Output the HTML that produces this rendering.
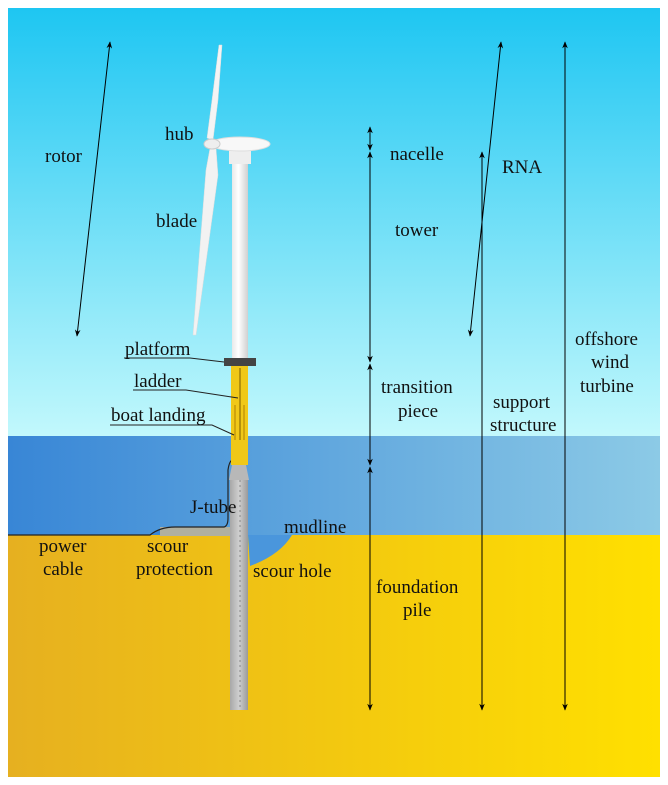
<!DOCTYPE html>
<html><head><style>html,body{margin:0;padding:0;background:#fff;}svg{display:block}</style></head><body>
<svg width="668" height="785" viewBox="0 0 668 785" xmlns="http://www.w3.org/2000/svg" font-family="Liberation Serif, serif" font-size="19" fill="#111">
<defs>
<linearGradient id="sky" x1="0" y1="0" x2="0" y2="1"><stop offset="0" stop-color="#1ec6f2"/><stop offset="1" stop-color="#c2f8fc"/></linearGradient>
<linearGradient id="sea" x1="0" y1="0" x2="1" y2="0"><stop offset="0" stop-color="#3886d6"/><stop offset="1" stop-color="#8ccae6"/></linearGradient>
<linearGradient id="gnd" x1="0" y1="0" x2="1" y2="0"><stop offset="0" stop-color="#e6b020"/><stop offset="1" stop-color="#ffe000"/></linearGradient>
<linearGradient id="pile" x1="0" y1="0" x2="1" y2="0"><stop offset="0" stop-color="#a8a8a8"/><stop offset="0.5" stop-color="#cfcfcf"/><stop offset="1" stop-color="#9a9a9a"/></linearGradient>
<linearGradient id="tow" x1="0" y1="0" x2="1" y2="0"><stop offset="0" stop-color="#e8e8e8"/><stop offset="0.4" stop-color="#ffffff"/><stop offset="1" stop-color="#d0d0d0"/></linearGradient>
<marker id="a" viewBox="0 0 10 10" refX="9" refY="5" markerWidth="7" markerHeight="7" orient="auto-start-reverse"><path d="M0,1 L10,5 L0,9 L3,5z" fill="#000"/></marker>
</defs>
<rect x="8" y="8" width="652" height="428" fill="url(#sky)"/>
<rect x="8" y="436" width="652" height="100" fill="url(#sea)"/>
<rect x="8" y="535" width="652" height="242" fill="url(#gnd)"/>
<path d="M248,535 L292,535 Q280,555 250,566 Z" fill="#4a96dc"/>
<path d="M8,535 L150,535 Q160,527 175,527 L228,527 L230,535 Z" fill="#3a88d6"/>
<rect x="160" y="527" width="70" height="9" fill="#b0b0a0"/>
<path d="M8,535 L150,535 Q160,527 175,527 L224,527 Q228,526 228,518 L228,470 Q229,462 232,460" fill="none" stroke="#222" stroke-width="1.2"/>
<rect x="230" y="478" width="18" height="232" fill="url(#pile)"/>
<path d="M232,465 L246,465 L249,480 L229,480 Z" fill="#b8b8b8"/>
<line x1="240" y1="480" x2="240" y2="708" stroke="#888" stroke-dasharray="2,3"/>
<rect x="231" y="363" width="17" height="102" fill="#f0c818"/>
<line x1="240" y1="368" x2="240" y2="440" stroke="#7a5a00"/>
<line x1="235" y1="405" x2="235" y2="440" stroke="#b08000"/>
<line x1="244" y1="405" x2="244" y2="440" stroke="#b08000"/>
<rect x="224" y="358" width="32" height="8" fill="#444"/>
<rect x="232" y="150" width="16" height="208" fill="url(#tow)"/>
<rect x="229" y="150" width="22" height="14" fill="#eee"/>
<path d="M219,45 L222,45 L218,100 L213,140 L207,138 L212,100 Z" fill="#f4f4f4" stroke="#ddd" stroke-width="0.5"/>
<path d="M210,148 L216,148 L218,175 L196,335 L193,335 L206,170 Z" fill="#f2f2f2" stroke="#ddd" stroke-width="0.5"/>
<ellipse cx="240" cy="144" rx="30" ry="7" fill="#f8f8f8" stroke="#ddd"/>
<ellipse cx="212" cy="144" rx="8" ry="5" fill="#eee" stroke="#ccc"/>
<g stroke="#222" stroke-width="1" fill="none">
<path d="M124,358 L190,358 L224,362"/>
<path d="M133,390 L186,390 L238,398"/>
<path d="M110,425 L212,425 L234,435"/>
</g>
<g stroke="#000" stroke-width="1" marker-start="url(#a)" marker-end="url(#a)">
<line x1="110" y1="42" x2="77" y2="336"/>
<line x1="370" y1="127" x2="370" y2="150"/>
<line x1="370" y1="152" x2="370" y2="362"/>
<line x1="370" y1="364" x2="370" y2="465"/>
<line x1="370" y1="467" x2="370" y2="710"/>
<line x1="501" y1="42" x2="470" y2="336"/>
<line x1="482" y1="152" x2="482" y2="710"/>
<line x1="565" y1="42" x2="565" y2="710"/>
</g>
<text x="45" y="162">rotor</text>
<text x="165" y="140">hub</text>
<text x="156" y="227">blade</text>
<text x="125" y="355">platform</text>
<text x="134" y="387">ladder</text>
<text x="111" y="421">boat landing</text>
<text x="190" y="513">J-tube</text>
<text x="284" y="533">mudline</text>
<text x="39" y="552">power</text>
<text x="43" y="575">cable</text>
<text x="147" y="552">scour</text>
<text x="136" y="575">protection</text>
<text x="253" y="577">scour hole</text>
<text x="390" y="160">nacelle</text>
<text x="395" y="236">tower</text>
<text x="381" y="393">transition</text>
<text x="398" y="417">piece</text>
<text x="376" y="593">foundation</text>
<text x="403" y="616">pile</text>
<text x="502" y="173">RNA</text>
<text x="493" y="408">support</text>
<text x="490" y="431">structure</text>
<text x="575" y="345">offshore</text>
<text x="591" y="368">wind</text>
<text x="580" y="392">turbine</text>
</svg>
</body></html>
